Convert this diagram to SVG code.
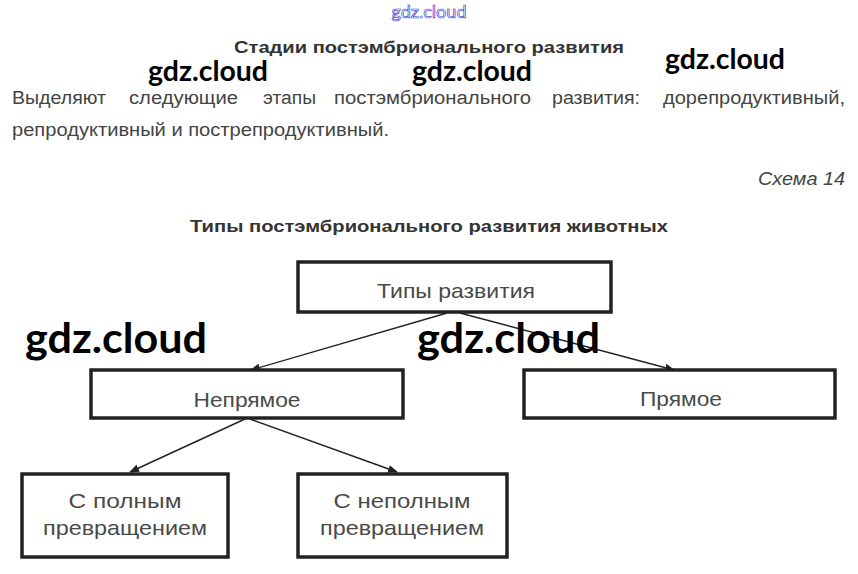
<svg xmlns="http://www.w3.org/2000/svg" width="858" height="574" viewBox="0 0 858 574">
<defs>
<style>
.wm{font-family:Lato,"Liberation Sans",sans-serif;font-weight:bold;fill:#000}
.h{font-family:"Liberation Sans",Arial,sans-serif;font-weight:bold;font-size:17px;fill:#333;text-anchor:middle}
.p{font-family:"Liberation Sans",Arial,sans-serif;font-size:18px;fill:#444}
.box{fill:#fff;stroke:#222;stroke-width:3.5}
.bt{font-family:"Liberation Sans",Arial,sans-serif;font-size:21px;fill:#4a4a4a;text-anchor:middle}
.ln{stroke:#222;stroke-width:1.4;fill:none}
</style>
<marker id="ah" markerUnits="userSpaceOnUse" markerWidth="10" markerHeight="8" refX="9" refY="4" orient="auto">
<path d="M0,0 L10,4 L0,8 Z" fill="#222"/>
</marker>
</defs>
<rect width="858" height="574" fill="#fff"/>

<text x="429" y="18" font-family="Lato,'Liberation Sans',sans-serif" font-size="17" fill="#fff" stroke="#2a2ad0" stroke-width="0.6" text-anchor="middle" textLength="75" lengthAdjust="spacingAndGlyphs">gdz.cloud</text>

<text class="h" x="429" y="53" textLength="390" lengthAdjust="spacingAndGlyphs">Стадии постэмбрионального развития</text>

<text class="p" y="104">
<tspan x="12" textLength="94" lengthAdjust="spacingAndGlyphs">Выделяют</tspan>
<tspan x="129" textLength="109" lengthAdjust="spacingAndGlyphs">следующие</tspan>
<tspan x="263" textLength="53" lengthAdjust="spacingAndGlyphs">этапы</tspan>
<tspan x="334" textLength="197" lengthAdjust="spacingAndGlyphs">постэмбрионального</tspan>
<tspan x="552" textLength="88" lengthAdjust="spacingAndGlyphs">развития:</tspan>
<tspan x="663" textLength="182" lengthAdjust="spacingAndGlyphs">дорепродуктивный,</tspan>
</text>
<text class="p" x="12" y="136" textLength="377" lengthAdjust="spacingAndGlyphs">репродуктивный и пострепродуктивный.</text>

<text x="845" y="185" font-family="'Liberation Sans',Arial,sans-serif" font-style="italic" font-size="18" fill="#444" text-anchor="end" textLength="87" lengthAdjust="spacingAndGlyphs">Схема 14</text>

<text class="h" x="429" y="232" textLength="478" lengthAdjust="spacingAndGlyphs">Типы постэмбрионального развития животных</text>

<g id="connectors">
<line class="ln" x1="447" y1="313" x2="251" y2="370" marker-end="url(#ah)"/>
<line class="ln" x1="460" y1="313" x2="674" y2="370" marker-end="url(#ah)"/>
<line class="ln" x1="245" y1="419" x2="130" y2="472" marker-end="url(#ah)"/>
<line class="ln" x1="250" y1="419" x2="397" y2="472" marker-end="url(#ah)"/>
</g>

<g id="node-types">
<rect class="box" x="298" y="262" width="313" height="50"/>
<text class="bt" x="456" y="298" textLength="158" lengthAdjust="spacingAndGlyphs">Типы развития</text>
</g>
<g id="node-indirect">
<rect class="box" x="91" y="370" width="312" height="48"/>
<text class="bt" x="247" y="407" textLength="107" lengthAdjust="spacingAndGlyphs">Непрямое</text>
</g>
<g id="node-direct">
<rect class="box" x="524" y="370" width="311" height="48"/>
<text class="bt" x="681" y="406" textLength="82" lengthAdjust="spacingAndGlyphs">Прямое</text>
</g>
<g id="node-complete">
<rect class="box" x="22" y="474" width="206" height="83"/>
<text class="bt" x="125" y="508" textLength="113" lengthAdjust="spacingAndGlyphs">С полным</text>
<text class="bt" x="125" y="535" textLength="164" lengthAdjust="spacingAndGlyphs">превращением</text>
</g>
<g id="node-incomplete">
<rect class="box" x="298" y="474" width="209" height="83"/>
<text class="bt" x="402" y="508" textLength="137" lengthAdjust="spacingAndGlyphs">С неполным</text>
<text class="bt" x="402" y="535" textLength="164" lengthAdjust="spacingAndGlyphs">превращением</text>
</g>

<text class="wm" x="148" y="81" font-size="28" textLength="120" lengthAdjust="spacingAndGlyphs">gdz.cloud</text>
<text class="wm" x="412" y="81" font-size="28" textLength="120" lengthAdjust="spacingAndGlyphs">gdz.cloud</text>
<text class="wm" x="665" y="69" font-size="28" textLength="120" lengthAdjust="spacingAndGlyphs">gdz.cloud</text>
<text class="wm" x="25" y="353" font-size="42" textLength="182" lengthAdjust="spacingAndGlyphs">gdz.cloud</text>
<text class="wm" x="417" y="353" font-size="42" textLength="183" lengthAdjust="spacingAndGlyphs">gdz.cloud</text>
</svg>
